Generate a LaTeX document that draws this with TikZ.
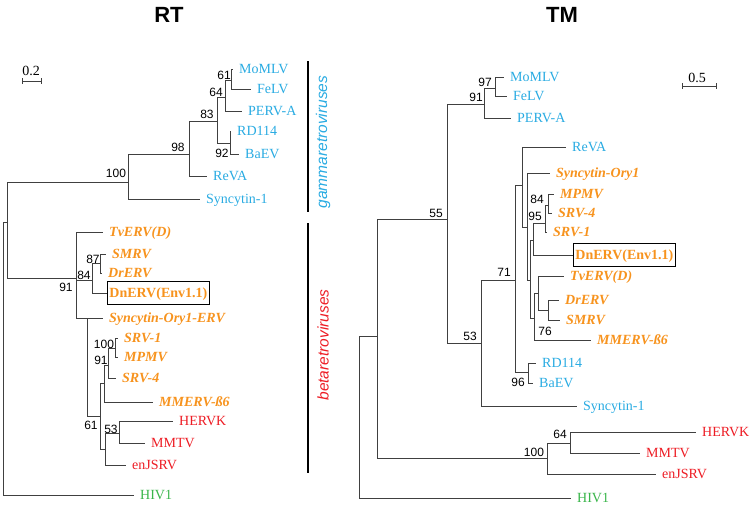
\documentclass[tikz,border=0pt]{standalone}
\usepackage{fontspec}
\setmainfont{Liberation Serif}
\setsansfont{Liberation Sans}
\usepackage{xcolor}
\usetikzlibrary{positioning}
\definecolor{gammac}{HTML}{29ABE2}
\definecolor{betac}{HTML}{F7931E}
\definecolor{redc}{HTML}{ED1C24}
\definecolor{hivc}{HTML}{39B54A}

\begin{document}
\begin{tikzpicture}[x=1pt,y=-1pt,
  br/.style={draw=black!75,line width=0.7pt},
  leaf/.style={anchor=west,inner xsep=6pt,inner ysep=0pt,text height=9.3pt,text depth=0pt,font=\fontsize{14}{16}\selectfont},
  gam/.style={leaf,text=gammac},
  bet/.style={leaf,text=betac,font=\fontsize{14}{16}\selectfont\bfseries\itshape},
  ret/.style={leaf,text=redc},
  hiv/.style={leaf,text=hivc},
  envbox/.style={anchor=west,draw=black,line width=0.8pt,inner xsep=2pt,minimum height=23pt,text height=9.3pt,text depth=0pt,text=betac,font=\fontsize{14}{16}\selectfont\bfseries},
  bs/.style={inner sep=0pt,font=\sffamily\fontsize{12}{12}\selectfont},
  grp/.style={rotate=90,font=\sffamily\itshape\fontsize{15.5}{16}\selectfont},
  ttl/.style={font=\sffamily\bfseries\fontsize{22}{24}\selectfont},
  bar/.style={draw=black,line width=1.1pt}]
\useasboundingbox (0,0) rectangle (750,506);

\node[ttl] (ttlRT) at (169,15) {RT};
\node[ttl] (ttlTM) at (562,15) {TM};

% RT tree
\node[font=\fontsize{14}{14}\selectfont] (scRT) at (31,71) {0.2};
\draw[br] (22,78) -- (22,84) (22,81) -- (41,81) (41,78) -- (41,84);

\coordinate (r0) at (3,222);
\coordinate (rA) at (7,222);
\coordinate (rG100) at (128,182);
\coordinate (rG98) at (189,154);
\coordinate (rG83) at (217,121);
\coordinate (rG64) at (225,97);
\coordinate (rG61) at (231,80);
\coordinate (rG92) at (230,143);
\coordinate (rB91) at (76,278);
\coordinate (rB84) at (92,280);
\coordinate (rB87) at (100,263);
\coordinate (rBZ) at (87,318);
\coordinate (rB61) at (100,416);
\coordinate (rBmm) at (104,383);
\coordinate (rB91b) at (108,365);
\coordinate (rB100) at (115,348);
\coordinate (rB53b) at (105,449);
\coordinate (rB53) at (119,433);

\node[gam] (rMoMLV) at (233,69) {MoMLV};
\node[gam] (rFeLV) at (251,89) {FeLV};
\node[gam] (rPERV) at (242,111) {PERV-A};
\node[gam] (rRD114) at (231,131) {RD114};
\node[gam] (rBaEV) at (239,154) {BaEV};
\node[gam] (rReVA) at (207,176) {ReVA};
\node[gam] (rSync1) at (200,199) {Syncytin-1};
\node[bet] (rTvERV) at (103,232) {TvERV(D)};
\node[bet] (rSMRV) at (106,254) {SMRV};
\node[bet] (rDrERV) at (102,273) {DrERV};
\node[envbox] (rDnERV) at (107,293) {DnERV(Env1.1)};
\node[bet] (rSyncOry) at (103,318) {Syncytin-Ory1-ERV};
\node[bet] (rSRV1) at (118,338) {SRV-1};
\node[bet] (rMPMV) at (118,357) {MPMV};
\node[bet] (rSRV4) at (116,378) {SRV-4};
\node[bet] (rMMERV) at (153,402) {MMERV-\ss6};
\node[ret] (rHERVK) at (173,421) {HERVK};
\node[ret] (rMMTV) at (145,443) {MMTV};
\node[ret] (rEnJSRV) at (126,465) {enJSRV};
\node[hiv] (rHIV1) at (134,495) {HIV1};

\draw[br] (r0) |- (rA);
\draw[br] (r0) |- (rHIV1.west);
\draw[br] (rA) |- (rG100);
\draw[br] (rA) |- (rB91);
\draw[br] (rG100) |- (rG98);
\draw[br] (rG100) |- (rSync1.west);
\draw[br] (rG98) |- (rG83);
\draw[br] (rG98) |- (rReVA.west);
\draw[br] (rG83) |- (rG64);
\draw[br] (rG83) |- (rG92);
\draw[br] (rG64) |- (rG61);
\draw[br] (rG64) |- (rPERV.west);
\draw[br] (rG61) |- (rMoMLV.west);
\draw[br] (rG61) |- (rFeLV.west);
\draw[br] (rG92) |- (rRD114.west);
\draw[br] (rG92) |- (rBaEV.west);
\draw[br] (rB91) |- (rTvERV.west);
\draw[br] (rB91) |- (rB84);
\draw[br] (rB91) |- (rBZ);
\draw[br] (rB84) |- (rB87);
\draw[br] (rB84) |- (rDnERV.west);
\draw[br] (rB87) |- (rSMRV.west);
\draw[br] (rB87) |- (rDrERV.west);
\draw[br] (rBZ) |- (rSyncOry.west);
\draw[br] (rBZ) |- (rB61);
\draw[br] (rB61) |- (rBmm);
\draw[br] (rB61) |- (rB53b);
\draw[br] (rBmm) |- (rB91b);
\draw[br] (rBmm) |- (rMMERV.west);
\draw[br] (rB91b) |- (rB100);
\draw[br] (rB91b) |- (rSRV4.west);
\draw[br] (rB100) |- (rSRV1.west);
\draw[br] (rB100) |- (rMPMV.west);
\draw[br] (rB53b) |- (rB53);
\draw[br] (rB53b) |- (rEnJSRV.west);
\draw[br] (rB53) |- (rHERVK.west);
\draw[br] (rB53) |- (rMMTV.west);

\node[bs] (bsR1) at (116,173) {100};
\node[bs] (bsR2) at (178,147) {98};
\node[bs] (bsR3) at (207,114) {83};
\node[bs] (bsR4) at (216,92) {64};
\node[bs] (bsR5) at (224,75) {61};
\node[bs] (bsR6) at (222,153) {92};
\node[bs] (bsR7) at (66,287) {91};
\node[bs] (bsR8) at (84,275) {84};
\node[bs] (bsR9) at (93,259) {87};
\node[bs] (bsR10) at (104,344) {100};
\node[bs] (bsR11) at (101,360) {91};
\node[bs] (bsR12) at (91,425) {61};
\node[bs] (bsR13) at (111,429) {53};

\coordinate (gamTop) at (308,61);
\coordinate (gamBot) at (308,212);
\coordinate (betTop) at (308,223);
\coordinate (betBot) at (308,473);
\draw[bar] (gamTop) -- (gamBot);
\draw[bar] (betTop) -- (betBot);
\node[grp,text=gammac] (gamLbl) at (323,142) {gammaretroviruses};
\node[grp,text=redc] (betLbl) at (323,345) {betaretroviruses};

% TM tree
\node[font=\fontsize{14}{14}\selectfont] (scTM) at (697,78) {0.5};
\draw[br] (682,83) -- (682,89) (682,86) -- (716,86) (716,83) -- (716,89);

\coordinate (t0) at (359,336);
\coordinate (tA) at (377,336);
\coordinate (t55) at (447,219);
\coordinate (t91) at (484,104);
\coordinate (t97) at (495,88);
\coordinate (t53) at (481,343);
\coordinate (t71) at (515,280);
\coordinate (t96) at (528,372);
\coordinate (tQ) at (522,185);
\coordinate (tR) at (527,227);
\coordinate (tS) at (530,280);
\coordinate (tV) at (533,240);
\coordinate (t95) at (545,223);
\coordinate (t84) at (548,205);
\coordinate (tX) at (534,318);
\coordinate (tT) at (538,293);
\coordinate (t76) at (548,310);
\coordinate (t100) at (547,458);
\coordinate (t64) at (570,443);

\node[gam] (tMoMLV) at (504,77) {MoMLV};
\node[gam] (tFeLV) at (507,96) {FeLV};
\node[gam] (tPERV) at (511,118) {PERV-A};
\node[gam] (tReVA) at (566,147) {ReVA};
\node[bet] (tSyncOry) at (550,173) {Syncytin-Ory1};
\node[bet] (tMPMV) at (554,194) {MPMV};
\node[bet] (tSRV4) at (552,213) {SRV-4};
\node[bet] (tSRV1) at (547,232) {SRV-1};
\node[envbox] (tDnERV) at (573,255) {DnERV(Env1.1)};
\node[bet] (tTvERV) at (564,276) {TvERV(D)};
\node[bet] (tDrERV) at (559,300) {DrERV};
\node[bet] (tSMRV) at (560,320) {SMRV};
\node[bet] (tMMERV) at (591,340) {MMERV-\ss6};
\node[gam] (tRD114) at (536,363) {RD114};
\node[gam] (tBaEV) at (533,383) {BaEV};
\node[gam] (tSync1) at (577,406) {Syncytin-1};
\node[ret] (tHERVK) at (696,432) {HERVK};
\node[ret] (tMMTV) at (640,453) {MMTV};
\node[ret] (tEnJSRV) at (656,474) {enJSRV};
\node[hiv] (tHIV1) at (571,498) {HIV1};

\draw[br] (t0) |- (tA);
\draw[br] (t0) |- (tHIV1.west);
\draw[br] (tA) |- (t55);
\draw[br] (tA) |- (t100);
\draw[br] (t55) |- (t91);
\draw[br] (t55) |- (t53);
\draw[br] (t91) |- (t97);
\draw[br] (t91) |- (tPERV.west);
\draw[br] (t97) |- (tMoMLV.west);
\draw[br] (t97) |- (tFeLV.west);
\draw[br] (t53) |- (t71);
\draw[br] (t53) |- (tSync1.west);
\draw[br] (t71) |- (tQ);
\draw[br] (t71) |- (t96);
\draw[br] (t96) |- (tRD114.west);
\draw[br] (t96) |- (tBaEV.west);
\draw[br] (tQ) |- (tReVA.west);
\draw[br] (tQ) |- (tR);
\draw[br] (tR) |- (tSyncOry.west);
\draw[br] (tR) |- (tS);
\draw[br] (tS) |- (tV);
\draw[br] (tS) |- (tX);
\draw[br] (tV) |- (t95);
\draw[br] (tV) |- (tDnERV.west);
\draw[br] (t95) |- (t84);
\draw[br] (t95) |- (tSRV1.west);
\draw[br] (t84) |- (tMPMV.west);
\draw[br] (t84) |- (tSRV4.west);
\draw[br] (tX) |- (tT);
\draw[br] (tX) |- (tMMERV.west);
\draw[br] (tT) |- (tTvERV.west);
\draw[br] (tT) |- (t76);
\draw[br] (t76) |- (tDrERV.west);
\draw[br] (t76) |- (tSMRV.west);
\draw[br] (t100) |- (t64);
\draw[br] (t100) |- (tEnJSRV.west);
\draw[br] (t64) |- (tHERVK.west);
\draw[br] (t64) |- (tMMTV.west);

\node[bs] (bsT1) at (485,82) {97};
\node[bs] (bsT2) at (476,97) {91};
\node[bs] (bsT3) at (436,213) {55};
\node[bs] (bsT4) at (537,199) {84};
\node[bs] (bsT5) at (535,216) {95};
\node[bs] (bsT6) at (504,272) {71};
\node[bs] (bsT7) at (470,336) {53};
\node[bs] (bsT8) at (545,331) {76};
\node[bs] (bsT9) at (518,382) {96};
\node[bs] (bsT10) at (560,434) {64};
\node[bs] (bsT11) at (534,452) {100};
\end{tikzpicture}
\end{document}
